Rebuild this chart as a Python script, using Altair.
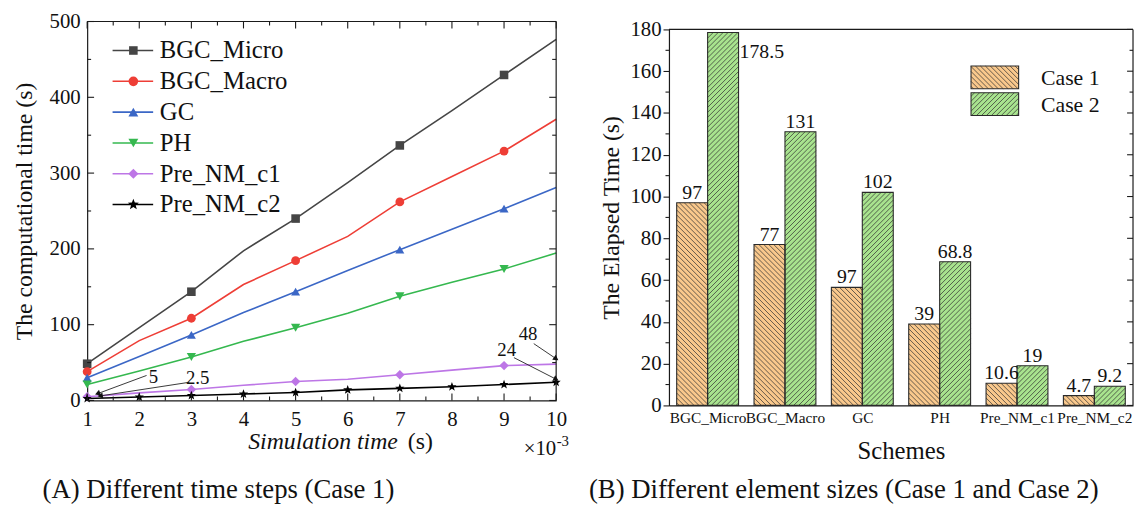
import json
import math
import pandas as pd
import altair as alt

# ---------------- Panel A data ----------------
sim_time = [1, 2, 3, 4, 5, 6, 7, 8, 9, 10]
series_names = ["BGC_Micro", "BGC_Macro", "GC", "PH", "Pre_NM_c1", "Pre_NM_c2"]
bgc_micro = [48.5, 96, 143.5, 197.5, 240, 287.5, 336.5, 382.5, 429.5, 476.5]
bgc_macro = [38, 79, 108.5, 153, 184.5, 216.5, 262, 295.5, 329, 371]
gc_vals = [30, 58, 86.5, 116, 143.5, 171.5, 199, 226, 253, 281]
ph_vals = [21, 39, 57.5, 78, 96, 115, 137.5, 156, 173.5, 194.5]
pre_nm_c1 = [5, 10, 14.5, 20, 25, 28, 34, 40, 46, 48]
pre_nm_c2 = [2.5, 4.5, 6.5, 8.5, 10.5, 14, 16, 18, 21, 24]
x_ticks = [1, 2, 3, 4, 5, 6, 7, 8, 9, 10]
y_ticks_a = [0, 100, 200, 300, 400, 500]

ann_labels = ["5", "2.5", "48", "24"]
ann_text_x = [2.27, 3.12, 9.46, 9.05]
ann_text_y = [31, 30, 87, 66]
ann_from_x = [2.14, 2.96, 9.57, 9.19]
ann_from_y = [33, 24, 75, 56.5]
ann_to_x = [1.2, 1.25, 10, 10]
ann_to_y = [9, 6, 55, 28]

# ---------------- Panel B data ----------------
schemes = ["BGC_Micro", "BGC_Macro", "GC", "PH", "Pre_NM_c1", "Pre_NM_c2"]
case_names = ["Case 1", "Case 2"]
case1 = [97, 77, 56.5, 39, 10.6, 4.7]
case2 = [178.5, 131, 102, 68.8, 19, 9.2]
case1_labels = ["97", "77", "97", "39", "10.6", "4.7"]
case2_labels = ["178.5", "131", "102", "68.8", "19", "9.2"]
y_ticks_b = [0, 20, 40, 60, 80, 100, 120, 140, 160, 180]

# ---------------- styles / layout ----------------
FONT = "Liberation Serif"
FRAME = "#1a1a1a"
TXT = "#111111"
line_colors = ["#454545", "#EE3E36", "#3B67C6", "#35B84F", "#BD76E6", "#000000"]
ORANGE = "#F9C88C"
GREEN = "#A8E38E"
HATCH = "#333333"

WA, HA = 474, 383
WB, HB = 469, 388
B_TOP = 8
RXA, RYA = WA / 9.0, HA / 500.0
RXB, RYB = WB / 6.0, (HB - B_TOP) / 180.0

# star path
pts = []
for k in range(10):
    r = 1.0 if k % 2 == 0 else 0.42
    a = -math.pi / 2 + k * math.pi / 5
    pts.append((r * math.cos(a), r * math.sin(a)))
STAR = "M" + "L".join(f"{x:.3f},{y:.3f}" for x, y in pts) + "Z"
shapes = ["square", "circle", "triangle-up", "triangle-down", "diamond", STAR]
sizes = [75, 95, 100, 100, 105, 140]

one = pd.DataFrame({"a": [0]})


def XA(f):
    return alt.X(f"{f}:Q", scale=alt.Scale(domain=[1, 10], nice=False, zero=False),
                 axis=alt.Axis(values=x_ticks, format="d", ticks=False, grid=False,
                               labelPadding=8, labelFont=FONT, labelFontSize=21,
                               labelFlush=False, labelOverlap=False,
                               labelColor=TXT, domainColor=FRAME, domainWidth=1.2,
                               title=None))


def YA(f):
    return alt.Y(f"{f}:Q", scale=alt.Scale(domain=[0, 500], nice=False),
                 axis=alt.Axis(values=y_ticks_a, ticks=False, grid=False, labelPadding=7,
                               labelFlush=False, labelOverlap=False,
                               labelFont=FONT, labelFontSize=21, labelColor=TXT,
                               domainColor=FRAME, domainWidth=1.2,
                               title="The computational time (s)", titleFont=FONT,
                               titleFontSize=24, titleFontWeight="normal", titleColor=TXT,
                               titleX=-51, titleY=HA / 2))


color_a = alt.Color("series:N", scale=alt.Scale(domain=series_names, range=line_colors), legend=None)
shape_a = alt.Shape("series:N", scale=alt.Scale(domain=series_names, range=shapes), legend=None)
size_a = alt.Size("series:N", scale=alt.Scale(domain=series_names, range=sizes), legend=None)

all_series = [bgc_micro, bgc_macro, gc_vals, ph_vals, pre_nm_c1, pre_nm_c2]
rows = []
for s, vals in zip(series_names, all_series):
    for t, v in zip(sim_time, vals):
        rows.append({"series": s, "t": t, "v": v,
                     "mk": (t % 2 == 1) or s == "Pre_NM_c2"})
df_a = pd.DataFrame(rows)
df_pts = df_a[df_a["mk"]]

layers_a = []
layers_a.append(alt.Chart(df_a).mark_line(strokeWidth=1.6).encode(
    x=XA("t"), y=YA("v"), color=color_a, detail="series:N", order="t:Q"))
layers_a.append(alt.Chart(df_pts).mark_point(filled=True, opacity=1).encode(
    x=XA("t"), y=YA("v"), color=color_a, shape=shape_a, size=size_a))

# inward ticks on all four sides
minor_x = [t + 0.5 for t in x_ticks[:-1]]
minor_ya = [v + 50 for v in y_ticks_a[:-1]]
df_mx = pd.DataFrame({"t": x_ticks})
df_nx = pd.DataFrame({"t": minor_x})
df_my = pd.DataFrame({"v": y_ticks_a})
df_ny = pd.DataFrame({"v": minor_ya})
for d, ln in ((df_mx, 7), (df_nx, 4)):
    layers_a.append(alt.Chart(d).mark_rule(color=FRAME, strokeWidth=1.1).encode(
        x=XA("t"), y=alt.value(HA), y2=alt.value(HA - ln)))
    layers_a.append(alt.Chart(d).mark_rule(color=FRAME, strokeWidth=1.1).encode(
        x=XA("t"), y=alt.value(0), y2=alt.value(ln)))
for d, ln in ((df_my, 7), (df_ny, 4)):
    layers_a.append(alt.Chart(d).mark_rule(color=FRAME, strokeWidth=1.1).encode(
        y=YA("v"), x=alt.value(0), x2=alt.value(ln)))
    layers_a.append(alt.Chart(d).mark_rule(color=FRAME, strokeWidth=1.1).encode(
        y=YA("v"), x=alt.value(WA), x2=alt.value(WA - ln)))
# frame top / right
layers_a.append(alt.Chart(one).mark_rule(color=FRAME, strokeWidth=1.2).encode(
    x=alt.value(0), x2=alt.value(WA), y=alt.value(0)))
layers_a.append(alt.Chart(one).mark_rule(color=FRAME, strokeWidth=1.2).encode(
    x=alt.value(WA), y=alt.value(0), y2=alt.value(HA)))

# annotations
ann_rows = []
for lab, lx, ly, fx, fy, tx, ty in zip(ann_labels, ann_text_x, ann_text_y, ann_from_x,
                                       ann_from_y, ann_to_x, ann_to_y):
    dxp = (tx - fx) * RXA
    dyp = -(ty - fy) * RYA
    ang = math.degrees(math.atan2(dxp, -dyp)) % 360
    ann_rows.append({"label": lab, "lx": lx, "ly": ly, "fx": fx, "fy": fy,
                     "tx": tx, "ty": ty, "ang": ang})
df_ann = pd.DataFrame(ann_rows)
layers_a.append(alt.Chart(df_ann).mark_rule(color="#222", strokeWidth=0.9).encode(
    x=XA("fx"), y=YA("fy"), x2="tx:Q", y2="ty:Q"))
layers_a.append(alt.Chart(df_ann).mark_point(shape="triangle-up", filled=True, color="#111",
                                             opacity=1, size=38).encode(
    x=XA("tx"), y=YA("ty"), angle=alt.Angle("ang:Q", scale=None)))
layers_a.append(alt.Chart(df_ann).mark_text(font=FONT, fontSize=19, color=TXT,
                                            baseline="middle").encode(
    x=XA("lx"), y=YA("ly"), text="label:N"))

# legend A
for k, (s, c, sh, sz) in enumerate(zip(series_names, line_colors, shapes, sizes)):
    yy = 29.3 + k * 31.14
    d = pd.DataFrame({"series": [s]})
    layers_a.append(alt.Chart(d).mark_rule(color=c, strokeWidth=1.6).encode(
        x=alt.value(25.7), x2=alt.value(66.7), y=alt.value(yy)))
    layers_a.append(alt.Chart(d).mark_point(filled=True, opacity=1, color=c, shape=sh,
                                            size=sz).encode(x=alt.value(46.7), y=alt.value(yy)))
    layers_a.append(alt.Chart(d).mark_text(font=FONT, fontSize=25, color=TXT, align="left",
                                           baseline="middle").encode(
        x=alt.value(73.4), y=alt.value(yy), text="series:N"))

# axis title / multiplier / caption for A
layers_a.append(alt.Chart(one).mark_text(text="Simulation time", font=FONT, fontStyle="italic",
                                         fontSize=24, color=TXT, align="right",
                                         baseline="middle").encode(
    x=alt.value(314), y=alt.value(425)))
layers_a.append(alt.Chart(one).mark_text(text="(s)", font=FONT, fontSize=24, color=TXT,
                                         align="left", baseline="middle").encode(
    x=alt.value(324), y=alt.value(425)))
layers_a.append(alt.Chart(one).mark_text(text="×10", font=FONT, fontSize=21, color=TXT,
                                         align="right", baseline="middle").encode(
    x=alt.value(474), y=alt.value(432)))
layers_a.append(alt.Chart(one).mark_text(text="-3", font=FONT, fontSize=15, color=TXT,
                                         align="left", baseline="middle").encode(
    x=alt.value(474.5), y=alt.value(424)))
layers_a.append(alt.Chart(one).mark_text(text="(A) Different time steps (Case 1)", font=FONT,
                                         fontSize=27, color=TXT, align="center",
                                         baseline="middle").encode(
    x=alt.value(132.7), y=alt.value(473.5)))

left = alt.layer(*layers_a).properties(width=WA, height=HA)

# ---------------- Panel B ----------------
label_expr = json.dumps(schemes) + "[datum.value]"


def XB(f):
    return alt.X(f"{f}:Q", scale=alt.Scale(domain=[-0.5, 5.5], nice=False, zero=False),
                 axis=alt.Axis(values=list(range(len(schemes))), labelExpr=label_expr,
                               ticks=False, grid=False, labelPadding=5, labelFont=FONT,
                               labelFontSize=15.5, labelColor=TXT, domainColor=FRAME,
                               labelFlush=False, labelOverlap=False,
                               domainWidth=1.2, title="Schemes", titleFont=FONT,
                               titleFontSize=25, titleFontWeight="normal", titleColor=TXT,
                               titleY=34))


def YB(f):
    return alt.Y(f"{f}:Q", scale=alt.Scale(domain=[0, 180], nice=False, range=[HB, B_TOP]),
                 axis=alt.Axis(values=y_ticks_b, tickSize=6, tickColor=FRAME, tickWidth=1.1,
                               grid=False, labelPadding=2, labelFont=FONT, labelFontSize=21,
                               labelFlush=False, labelOverlap=False,
                               labelColor=TXT, domainColor=FRAME, domainWidth=1.2,
                               title="The Elapsed Time (s)", titleFont=FONT, titleFontSize=24,
                               titleFontWeight="normal", titleColor=TXT, titleX=-45.6,
                               titleY=(HB + B_TOP) / 2))


BAR_W = 0.4
bar_rows = []
for i, s in enumerate(schemes):
    bar_rows.append({"scheme": s, "case": "Case 1", "x0": i - BAR_W, "x1": i, "v": case1[i],
                     "lab": case1_labels[i], "zero": 0})
    bar_rows.append({"scheme": s, "case": "Case 2", "x0": i, "x1": i + BAR_W, "v": case2[i],
                     "lab": case2_labels[i], "zero": 0})
df_b = pd.DataFrame(bar_rows)
df_b["xc"] = (df_b["x0"] + df_b["x1"]) / 2
df_b["top"] = df_b["v"] > 170


def hatch(x0, x1, y0, y1, direction, spacing=5.0):
    w = (x1 - x0) * RXB
    h = (y1 - y0) * RYB
    segs = []
    if direction == "/":
        c = -w + spacing / 2
        while c < h:
            ulo, uhi = max(0.0, -c), min(w, h - c)
            if uhi > ulo:
                segs.append((ulo, ulo + c, uhi, uhi + c))
            c += spacing
    else:
        c = spacing / 2
        while c < w + h:
            ulo, uhi = max(0.0, c - h), min(w, c)
            if uhi > ulo:
                segs.append((ulo, c - ulo, uhi, c - uhi))
            c += spacing
    return [{"hx0": x0 + a / RXB, "hy0": y0 + b / RYB,
             "hx1": x0 + cc / RXB, "hy1": y0 + d / RYB} for a, b, cc, d in segs]


hrows = []
for r in bar_rows:
    hrows += hatch(r["x0"], r["x1"], 0, r["v"], "\\" if r["case"] == "Case 1" else "/")
df_hbar = pd.DataFrame(hrows)

# legend B boxes (pixel positions -> data units for hatching)
leg_x0, leg_x1 = 305.3, 353.4
leg_boxes = [(45, 68), (72, 95)]
lrows = []
for (py0, py1), cn in zip(leg_boxes, case_names):
    lrows += hatch(leg_x0 / RXB - 0.5, leg_x1 / RXB - 0.5, (HB - py1) / RYB, (HB - py0) / RYB,
                   "\\" if cn == "Case 1" else "/")
df_hleg = pd.DataFrame(lrows)

layers_b = []
for cn, col in zip(case_names, [ORANGE, GREEN]):
    layers_b.append(alt.Chart(df_b[df_b["case"] == cn]).mark_rect(fill=col, strokeWidth=0).encode(
        x=XB("x0"), x2="x1:Q", y=YB("v"), y2="zero:Q"))
layers_b.append(alt.Chart(df_hbar).mark_rule(color=HATCH, strokeWidth=0.75).encode(
    x=XB("hx0"), y=YB("hy0"), x2="hx1:Q", y2="hy1:Q"))
layers_b.append(alt.Chart(df_b).mark_rect(fillOpacity=0, stroke="#2a2a2a", strokeWidth=1.1).encode(
    x=XB("x0"), x2="x1:Q", y=YB("v"), y2="zero:Q"))
layers_b.append(alt.Chart(df_b[~df_b["top"]]).mark_text(
    font=FONT, fontSize=20, color=TXT, baseline="alphabetic", dy=-4).encode(
    x=XB("xc"), y=YB("v"), text="lab:N"))
layers_b.append(alt.Chart(df_b[df_b["top"]]).mark_text(
    font=FONT, fontSize=20, color=TXT, baseline="alphabetic", align="left", dx=1, dy=26).encode(
    x=XB("x1"), y=YB("v"), text="lab:N"))

# ticks B
minor_yb = [v + 10 for v in y_ticks_b[:-1]]
df_myb = pd.DataFrame({"v": y_ticks_b})
df_nyb = pd.DataFrame({"v": minor_yb})
layers_b.append(alt.Chart(df_nyb).mark_rule(color=FRAME, strokeWidth=1.1).encode(
    y=YB("v"), x=alt.value(0), x2=alt.value(-3.5)))
for d, ln in ((df_myb, 6), (df_nyb, 3.5)):
    layers_b.append(alt.Chart(d).mark_rule(color=FRAME, strokeWidth=1.1).encode(
        y=YB("v"), x=alt.value(WB), x2=alt.value(WB - ln)))
df_frame = pd.DataFrame({"v0": [0], "v1": [y_ticks_b[-1]]})
layers_b.append(alt.Chart(df_frame).mark_rule(color=FRAME, strokeWidth=1.2).encode(
    y=YB("v1"), x=alt.value(0), x2=alt.value(WB)))
layers_b.append(alt.Chart(df_frame).mark_rule(color=FRAME, strokeWidth=1.2).encode(
    x=alt.value(WB), y=YB("v0"), y2="v1:Q"))

# legend B
for (py0, py1), cn, col in zip(leg_boxes, case_names, [ORANGE, GREEN]):
    d = pd.DataFrame({"case": [cn]})
    layers_b.append(alt.Chart(d).mark_rect(fill=col, strokeWidth=0).encode(
        x=alt.value(leg_x0), x2=alt.value(leg_x1), y=alt.value(py0), y2=alt.value(py1)))
layers_b.append(alt.Chart(df_hleg).mark_rule(color=HATCH, strokeWidth=0.75).encode(
    x=XB("hx0"), y=YB("hy0"), x2="hx1:Q", y2="hy1:Q"))
for (py0, py1), cn in zip(leg_boxes, case_names):
    d = pd.DataFrame({"case": [cn]})
    layers_b.append(alt.Chart(d).mark_rect(fillOpacity=0, stroke="#2a2a2a", strokeWidth=1.1).encode(
        x=alt.value(leg_x0), x2=alt.value(leg_x1), y=alt.value(py0), y2=alt.value(py1)))
    layers_b.append(alt.Chart(d).mark_text(font=FONT, fontSize=22, color=TXT, align="left",
                                           baseline="middle").encode(
        x=alt.value(376), y=alt.value((py0 + py1) / 2 + 1), text="case:N"))

layers_b.append(alt.Chart(one).mark_text(
    text="(B) Different element sizes (Case 1 and Case 2)", font=FONT, fontSize=27, color=TXT,
    align="center", baseline="middle").encode(x=alt.value(176.7), y=alt.value(473.5)))

right = alt.layer(*layers_b).properties(width=WB, height=HB)

chart = alt.hconcat(left, right, spacing=114, bounds="flush").resolve_scale(
    color="independent", shape="independent", size="independent").configure_view(
    stroke=None).properties(padding={"left": 5, "top": 0, "right": 0, "bottom": 0},
                            background="white")

chart.save("out.html", embed_options={"renderer": "svg", "actions": False})
